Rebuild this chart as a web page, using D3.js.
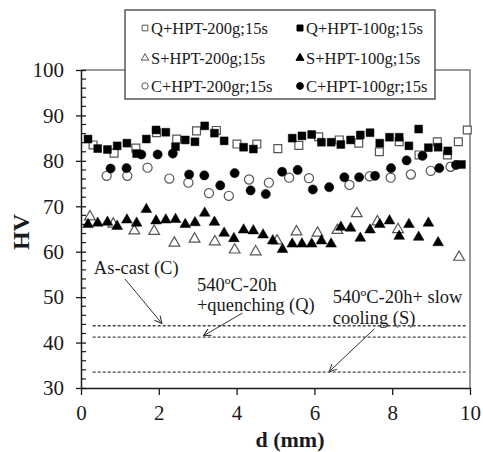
<!DOCTYPE html>
<html><head><meta charset="utf-8">
<script src="https://cdn.jsdelivr.net/npm/d3@7"></script>
<style>
body{margin:0;background:#fff;}
svg{display:block;font-family:"Liberation Serif","Times New Roman",serif;}
</style></head>
<body><svg id="c" width="483" height="452"></svg>
<script>
// ---- data ----
const xTicks = [0,2,4,6,8,10];
const yTicks = [30,40,50,60,70,80,90,100];

// Q+HPT-100g;15s (filled squares)
const dQ100  = [0.18,0.43,0.68,0.93,1.18,1.43,1.68,1.93,2.18,2.43,2.68,2.93,3.18,3.43,3.68,4.18,4.43,5.43,5.68,5.93,6.18,6.43,6.68,6.93,7.18,7.43,7.68,7.93,8.18,8.43,8.68,8.93,9.18,9.43,9.78];
const hvQ100 = [84.8,82.7,82.5,83.3,83.9,81.6,84.8,86.8,86.3,83.1,84.6,84.2,87.7,86.1,84.4,83.0,82.6,85.0,85.5,85.8,84.1,84.1,83.6,84.6,85.7,86.2,83.9,85.2,85.2,83.3,87.0,82.9,83.0,82.2,79.2];
// Q+HPT-200g;15s (open squares)
const dQ200  = [0.31,0.85,1.41,1.94,2.46,2.97,3.48,4.01,4.52,5.06,5.60,6.11,6.64,7.14,7.67,8.18,8.69,9.16,9.42,9.70,9.93];
const hvQ200 = [83.5,81.7,82.8,86.2,84.8,86.6,86.7,83.7,83.7,82.7,83.4,85.3,84.6,83.9,82.0,84.2,81.3,84.2,81.3,84.2,86.8];
// S+HPT-200g;15s (open triangles)
const dS200  = [0.23,0.83,1.37,1.88,2.40,2.92,3.44,3.95,4.49,5.04,5.54,6.08,6.59,7.09,7.62,8.15,9.72];
const hvS200 = [67.7,66.1,64.6,64.5,61.9,62.8,62.2,60.4,60.0,62.4,64.4,64.1,64.7,68.4,66.6,64.9,58.8];
// S+HPT-100g;15s (filled triangles)
const dS100  = [0.18,0.43,0.68,0.93,1.18,1.43,1.68,1.93,2.18,2.43,2.68,2.93,3.18,3.43,3.68,3.93,4.18,4.43,4.68,4.93,5.18,5.43,5.68,5.93,6.18,6.43,6.68,6.93,7.18,7.43,7.68,7.93,8.18,8.43,8.68,8.93,9.18];
const hvS100 = [66.0,66.3,66.5,65.6,67.0,66.3,69.3,66.8,67.0,67.1,66.0,66.4,68.5,66.5,64.1,62.9,64.8,64.6,63.7,62.4,60.5,61.7,61.7,61.7,62.4,61.7,65.4,65.2,63.0,64.8,66.0,66.8,63.4,66.0,63.2,66.3,62.0];
// C+HPT-200gr;15s (open circles)
const dC200  = [0.66,1.19,1.71,2.27,2.76,3.29,3.80,4.32,4.83,5.35,5.86,6.90,7.42,7.96,8.48,8.99,9.50];
const hvC200 = [76.7,76.7,78.5,76.1,75.2,72.9,72.3,75.9,75.2,76.3,76.2,74.7,76.6,76.3,77.0,77.8,78.7];
// C+HPT-100gr;15s (filled circles)
const dC100  = [0.76,1.17,1.55,1.97,2.36,2.78,3.17,3.58,3.95,4.36,4.75,5.17,5.57,5.96,6.38,6.77,7.15,7.56,7.97,8.37,8.78,9.21,9.64];
const hvC100 = [78.3,78.4,81.4,81.4,81.6,77.0,76.8,74.6,77.3,73.5,72.7,77.6,78.0,73.7,74.2,76.4,76.4,76.7,78.4,80.1,81.1,78.4,79.1];

// reference hardness levels (dashed): As-cast, quenching, slow cooling
const refLevels = [43.7, 41.2, 33.5];

const legendLabels = ["Q+HPT-200g;15s","Q+HPT-100g;15s","S+HPT-200g;15s","S+HPT-100g;15s","C+HPT-200gr;15s","C+HPT-100gr;15s"];

// ---- drawing ----
const svg = d3.select("#c");
const x = d3.scaleLinear().domain([0,10]).range([81,470]);
const y = d3.scaleLinear().domain([30,100]).range([388,70]);

const dark = "#1a1a1a", grayS = "#555";

// frame (top & right)
svg.append("path").attr("d",`M${x(0)},${y(100)}H${x(10)}V${y(30)}`)
  .attr("fill","none").attr("stroke","#777").attr("stroke-width",1.5);

// dashed reference lines
svg.selectAll("line.ref").data(refLevels).enter().append("line")
  .attr("x1",x(0.3)).attr("x2",x(9.93))
  .attr("y1",d=>y(d)).attr("y2",d=>y(d))
  .attr("stroke","#444").attr("stroke-width",1.3).attr("stroke-dasharray","3,2");

// axes
const yAxis = d3.axisLeft(y).tickValues(yTicks).tickSize(5).tickSizeOuter(0).tickPadding(12);
const gy = svg.append("g").attr("transform",`translate(${x(0)},0)`).call(yAxis);
gy.select(".domain").attr("stroke",dark).attr("stroke-width",1.5);
gy.selectAll(".tick line").attr("stroke",dark).attr("stroke-width",1.3).attr("x2",5).attr("x1",-5);
gy.selectAll(".tick text").attr("font-size",21).attr("fill",dark).attr("font-family","Liberation Serif");
// minor ticks
const minor = d3.range(30,100.1,2).filter(v=>v%10!==0);
svg.selectAll("line.minor").data(minor).enter().append("line")
  .attr("x1",x(0)).attr("x2",x(0)+5).attr("y1",d=>y(d)).attr("y2",d=>y(d))
  .attr("stroke",dark).attr("stroke-width",1.2);

const xAxis = d3.axisBottom(x).tickValues(xTicks).tickSize(7).tickSizeOuter(0).tickPadding(10);
const gx = svg.append("g").attr("transform",`translate(0,${y(30)})`).call(xAxis);
gx.select(".domain").attr("stroke",dark).attr("stroke-width",1.5);
gx.selectAll(".tick line").attr("stroke",dark).attr("stroke-width",1.3);
gx.selectAll(".tick text").attr("font-size",21).attr("fill",dark).attr("font-family","Liberation Serif");

// axis titles
svg.append("text").attr("x",290).attr("y",447).attr("text-anchor","middle")
  .attr("font-size",22).attr("font-weight","bold").attr("fill",dark).text("d (mm)");
svg.append("text").attr("transform","translate(29,232) rotate(-90)").attr("text-anchor","middle")
  .attr("font-size",24).attr("font-weight","bold").attr("fill",dark).text("HV");

// markers
const sq = d3.symbol().type(d3.symbolSquare).size(62);
const tri = d3.symbol().type(d3.symbolTriangle).size(50);
const circ = d3.symbol().type(d3.symbolCircle).size(66);
function series(ds, hs, sym, filled){
  svg.append("g").selectAll("path").data(ds.map((d,i)=>[d,hs[i]])).enter().append("path")
    .attr("transform",p=>`translate(${x(p[0])},${y(p[1])})`)
    .attr("d",sym())
    .attr("fill",filled?"#000":"#fff")
    .attr("stroke",filled?"#000":grayS).attr("stroke-width",filled?0.5:1.2);
}
series(dQ200,hvQ200,sq,false);
series(dC200,hvC200,circ,false);
series(dS200,hvS200,tri,false);
series(dQ100,hvQ100,sq,true);
series(dC100,hvC100,circ,true);
series(dS100,hvS100,tri,true);

// annotations
svg.append("defs").append("marker").attr("id","ah").attr("viewBox","0 0 10 10")
  .attr("refX",9).attr("refY",5).attr("markerWidth",9).attr("markerHeight",9)
  .attr("orient","auto").attr("markerUnits","userSpaceOnUse")
  .append("path").attr("d","M1,1L9,5L1,9").attr("fill","none").attr("stroke","#333").attr("stroke-width",1.2);
const arrows = [[1.13,54.0,2.08,44.2],[4.15,46.5,3.15,41.5],[7.54,43.0,6.38,33.6]];
svg.selectAll("line.arr").data(arrows).enter().append("line")
  .attr("x1",a=>x(a[0])).attr("y1",a=>y(a[1])).attr("x2",a=>x(a[2])).attr("y2",a=>y(a[3]))
  .attr("stroke","#333").attr("stroke-width",1).attr("marker-end","url(#ah)");
const notes = [
  ["As-cast (C)",0.33,55.0],
  ["540ºC-20h",2.98,51.3],
  ["+quenching (Q)",2.98,46.9],
  ["540ºC-20h+ slow",6.47,48.7],
  ["cooling (S)",6.47,44.0]
];
svg.selectAll("text.note").data(notes).enter().append("text")
  .attr("x",n=>x(n[1])).attr("y",n=>y(n[2])).attr("font-size",18.5).attr("fill",dark).text(n=>n[0]);

// legend
const lg = svg.append("g");
lg.append("rect").attr("x",125).attr("y",10).attr("width",310).attr("height",89)
  .attr("fill","#fff").attr("stroke","#555").attr("stroke-width",1.5);
const legFilled = [false,true,false,true,false,true];
const legSym2 = [d3.symbol().type(d3.symbolSquare).size(32),d3.symbol().type(d3.symbolSquare).size(36),
  d3.symbol().type(d3.symbolTriangle).size(24),d3.symbol().type(d3.symbolTriangle).size(28),
  d3.symbol().type(d3.symbolCircle).size(32),d3.symbol().type(d3.symbolCircle).size(36)];
legendLabels.forEach((lab,i)=>{
  const cx = i%2===0 ? 145 : 300;
  const cy = [28,58,86][Math.floor(i/2)];
  const filled = legFilled[i];
  lg.append("path").attr("transform",`translate(${cx},${cy})`).attr("d",legSym2[i]())
    .attr("fill",filled?"#000":"#fff").attr("stroke",filled?"#000":grayS).attr("stroke-width",1);
  lg.append("text").attr("x",cx+6).attr("y",cy+5.5).attr("font-size",16.5).attr("fill",dark).text(lab);
});
</script></body></html>
